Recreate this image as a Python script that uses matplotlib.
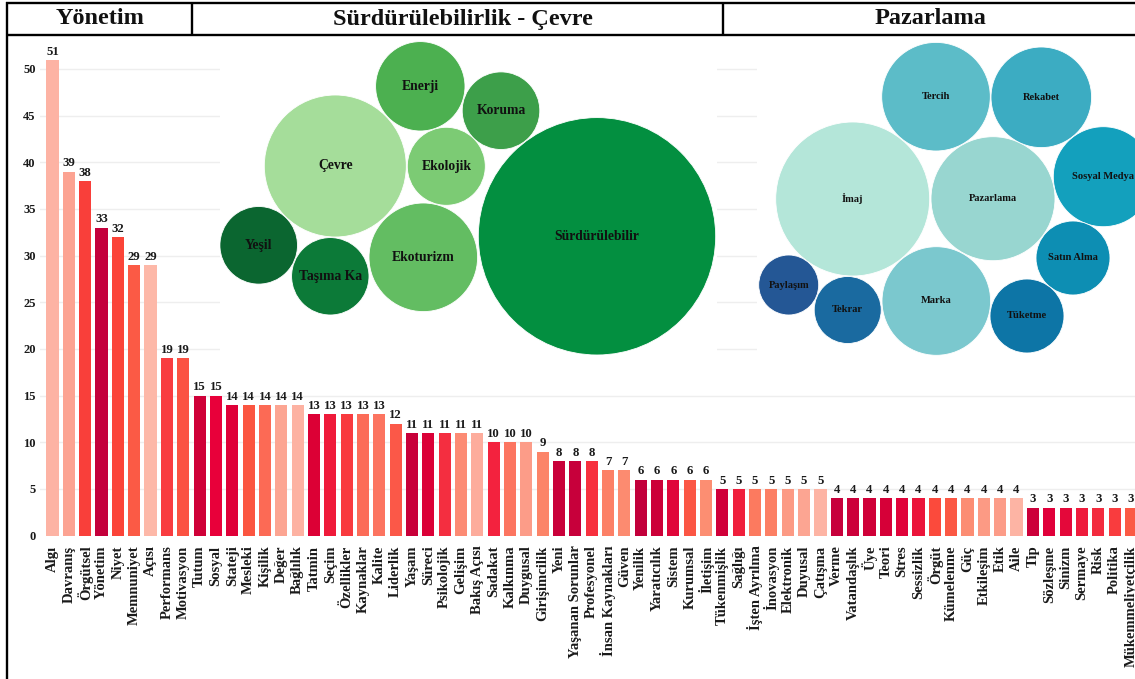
import matplotlib
matplotlib.use("Agg")
import numpy as np
from matplotlib import pyplot as plt
from matplotlib.patches import Circle
from matplotlib.lines import Line2D

W, H = 1135, 679

terms = ["Algı", "Davranış", "Örgütsel", "Yönetim", "Niyet", "Memnuniyet", "Açısı",
         "Performans", "Motivasyon", "Tutum", "Sosyal", "Stateji", "Mesleki", "Kişilik",
         "Değer", "Bağlılık", "Tatmin", "Seçim", "Özellikler", "Kaynaklar", "Kalite",
         "Liderlik", "Yaşam", "Süreci", "Psikolojik", "Gelişim", "Bakış Açısı", "Sadakat",
         "Kalkınma", "Duygusal", "Girişimcilik", "Yeni", "Yaşanan Sorunlar", "Profesyonel",
         "İnsan Kaynakları", "Güven", "Yenilik", "Yaratıcılık", "Sistem", "Kurumsal",
         "İletişim", "Tükenmişlik", "Sağlığı", "İşten Ayrılma", "İnovasyon", "Elektronik",
         "Duyusal", "Çatışma", "Verme", "Vatandaşlık", "Üye", "Teori", "Stres", "Sessizlik",
         "Örgüt", "Kümelenme", "Güç", "Etkileşim", "Etik", "Aile", "Tip", "Sözleşme",
         "Sinizm", "Sermaye", "Risk", "Politika", "Mükemmeliyetçilik"]
counts = [51, 39, 38, 33, 32, 29, 29, 19, 19, 15, 15, 14, 14, 14, 14, 14, 13, 13, 13, 13,
          13, 12, 11, 11, 11, 11, 11, 10, 10, 10, 9, 8, 8, 8, 7, 7, 6, 6, 6, 6, 6, 5, 5, 5,
          5, 5, 5, 5, 4, 4, 4, 4, 4, 4, 4, 4, 4, 4, 4, 4, 3, 3, 3, 3, 3, 3, 3]

bar_colors = ["#fdb3a4", "#fca392", "#f93f3a", "#c4003c", "#fb4438", "#fb5a45", "#fdb8a8",
              "#f93c40", "#fb5242", "#cf0038", "#e8003a", "#df0038", "#fb5540", "#fc6a55",
              "#fca592", "#fdb2a2", "#dc0035", "#ef1a3a", "#f93a3e", "#fc6c58", "#fc7460",
              "#fb5848", "#c8003a", "#db0037", "#f42e40", "#fc8b74", "#fdac9c", "#f3223e",
              "#fc7560", "#fc9c88", "#fc8468", "#c9003a", "#c7003b", "#f7303e", "#fc8066",
              "#fc8b70", "#c2003b", "#cc0038", "#e0063a", "#fb5644", "#fc8e72", "#d0003a",
              "#f01f3c", "#fc7a5f", "#fc7f64", "#fc9a84", "#fca592", "#fdb4a4", "#c7003b",
              "#cc003a", "#cf0038", "#d60038", "#e0033a", "#eb143a", "#fb4a3c", "#fb5844",
              "#fc8d73", "#fc9a84", "#fc9c88", "#fdb4a4", "#cc003a", "#e0003a", "#e4083a",
              "#ee1b3c", "#f32b3e", "#f93c3e", "#fb5a44"]

# bubble layouts (units: pixels inside each inset, y downward)
green_labels = ["Çevre", "Ekolojik", "Ekoturizm", "Enerji", "Koruma", "Sürdürülebilir",
                "Taşıma Ka", "Yeşil"]
green_x = [115.3, 226.3, 203.3, 200.3, 281.0, 377.0, 110.3, 38.7]
green_y = [128.0, 128.3, 219.3, 48.3, 72.7, 198.3, 238.3, 207.3]
green_r = [71.0, 39.0, 54.3, 44.7, 38.8, 118.7, 38.7, 38.8]
green_colors = ["#a5dd9a", "#7ccb74", "#63bd62", "#4cb050", "#3d9f4a", "#038f40",
                "#0c7a38", "#0b6630"]

mkt_labels = ["İmaj", "Pazarlama", "Marka", "Tercih", "Rekabet", "Sosyal Medya",
              "Satın Alma", "Tüketme", "Tekrar", "Paylaşım"]
mkt_x = [95.7, 236.0, 179.3, 179.0, 284.3, 346.3, 316.0, 270.0, 90.7, 31.7]
mkt_y = [161.0, 160.7, 263.0, 58.7, 59.3, 138.7, 220.0, 278.0, 272.0, 247.0]
mkt_r = [77.0, 62.0, 54.3, 54.3, 50.3, 50.0, 37.0, 37.0, 33.5, 30.0]
mkt_colors = ["#b4e6d9", "#98d6d0", "#7bc8ce", "#5cbcc8", "#3cacc2", "#13a0bd",
              "#0d8eb3", "#0d75a6", "#1a6aa0", "#245795"]

headers = ["Yönetim", "Sürdürülebilirlik - Çevre", "Pazarlama"]

plt.rcParams['font.family'] = ['Liberation Serif', 'DejaVu Serif']
plt.rcParams['font.weight'] = 'bold'
TXT = "#1a1a1a"


def px_box(x0, y0, x1, y1):
    return [x0 / W, 1 - y1 / H, (x1 - x0) / W, (y1 - y0) / H]


fig = plt.figure(figsize=(W / 100, H / 100), dpi=100)
fig.patch.set_facecolor("white")

# main bar chart
ax = fig.add_axes(px_box(40, 40, 1135, 540))
x = np.arange(len(terms))
bars = ax.bar(x, counts, width=0.74, color=bar_colors, edgecolor="none", zorder=2)
ax.bar_label(bars, labels=[str(c) for c in counts], padding=1.5, fontsize=9.2,
             fontweight="bold", color=TXT)
ax.set_xlim(-0.765, 66.25)
ax.set_ylim(-0.48, 53.1)
ax.set_yticks(np.arange(0, 51, 5))
ax.set_xticks(x)
ax.set_xticklabels(terms, rotation=90, ha="center", va="top", fontsize=10.5,
                   fontweight="bold", color=TXT)
ax.tick_params(axis="both", length=0)
ax.tick_params(axis="x", pad=4)
ax.tick_params(axis="y", pad=3, labelsize=9, labelcolor=TXT)
for s in ax.spines.values():
    s.set_visible(False)
ax.yaxis.grid(True, color="#eeeeee", linewidth=1.0, zorder=0)
ax.get_ygridlines()[0].set_visible(False)
ax.set_axisbelow(True)


def bubble_inset(box, labels, bx, by, br, colors, fsize):
    w = box[2] - box[0]
    h = box[3] - box[1]
    iax = fig.add_axes(px_box(*box))
    iax.set_facecolor("white")
    iax.set_xlim(0, w)
    iax.set_ylim(h, 0)
    iax.set_xticks([])
    iax.set_yticks([])
    for s in iax.spines.values():
        s.set_visible(False)
    for lab, cx, cy, r, c in zip(labels, bx, by, br, colors):
        iax.add_patch(Circle((cx, cy), r, facecolor=c, edgecolor="white", linewidth=0.6))
        iax.text(cx, cy, lab, ha="center", va="center", fontsize=fsize,
                 fontweight="bold", color="#111111", clip_on=True)
    return iax


bubble_inset((220, 38, 717, 370), green_labels, green_x, green_y, green_r,
             green_colors, 9.8)
bubble_inset((757, 38, 1135, 370), mkt_labels, mkt_x, mkt_y, mkt_r, mkt_colors, 7.6)

# header table lines
def fline(x0, y0, x1, y1, lw=1.7):
    fig.add_artist(Line2D([x0 / W, x1 / W], [1 - y0 / H, 1 - y1 / H],
                          transform=fig.transFigure, color="black", linewidth=lw,
                          solid_capstyle="butt"))


fline(6, 2.5, 1135, 2.5)
fline(6, 34.5, 1135, 34.5)
fline(7, 1.5, 7, 679)
fline(192, 2, 192, 35)
fline(723, 2, 723, 35)

for lab, cx in zip(headers, [100, 463, 930]):
    fig.text(cx / W, 1 - 19 / H, lab, ha="center", va="center", fontsize=17.5,
             fontweight="bold", color="#111111")

plt.savefig("out.png", dpi=100)
plt.close()
